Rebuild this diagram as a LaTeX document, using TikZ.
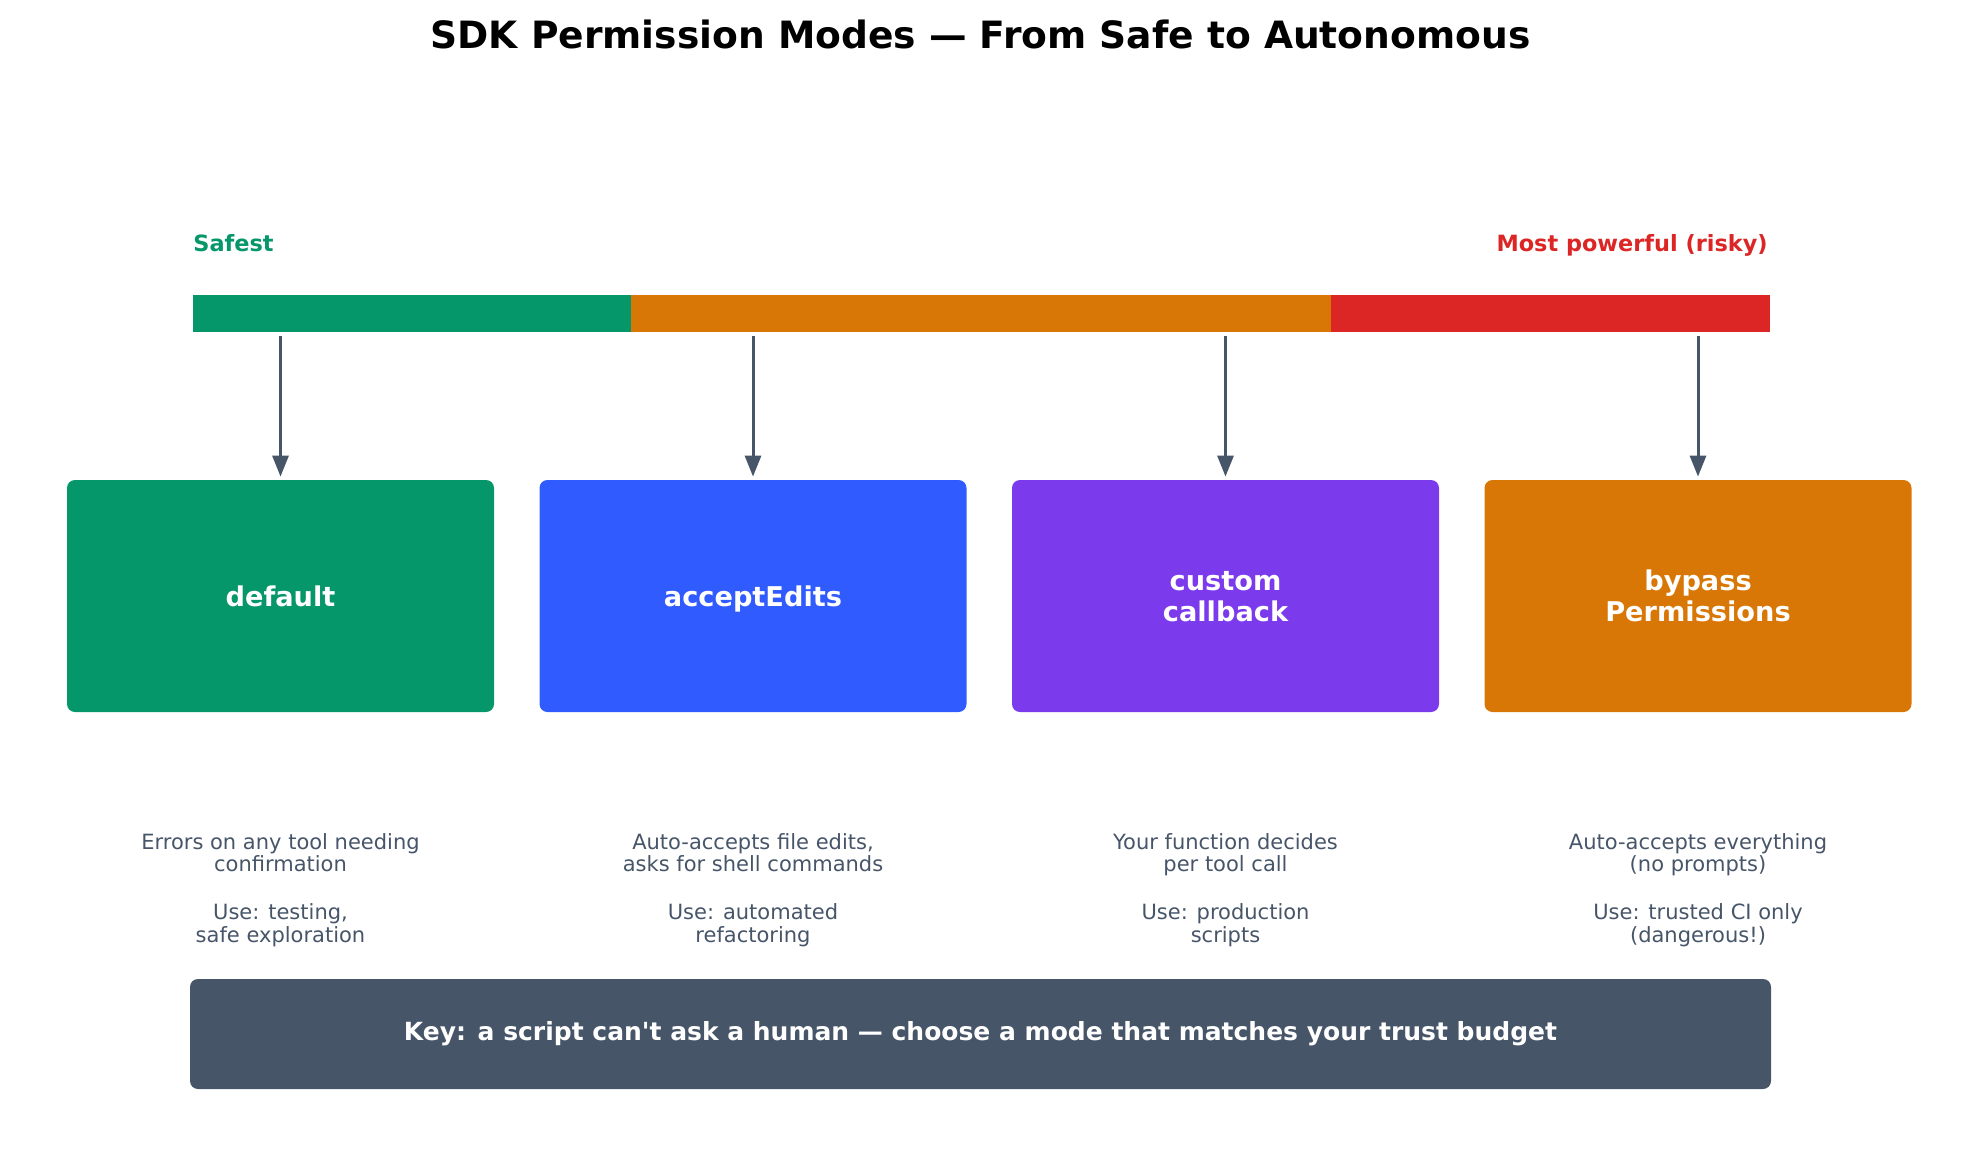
\documentclass[tikz,border=0pt]{standalone}
\usepackage{fontspec}
\setmainfont{DejaVu Sans}
\usetikzlibrary{arrows.meta, positioning}

\definecolor{safegreen}{HTML}{059669}
\definecolor{editblue}{HTML}{2F5BFF}
\definecolor{cbpurple}{HTML}{7C3AED}
\definecolor{riskorange}{HTML}{D97706}
\definecolor{riskred}{HTML}{DC2626}
\definecolor{slate}{HTML}{475569}

\begin{document}
\begin{tikzpicture}[
        x=0.5pt, y=-0.5pt,
        node distance=236.25pt,
        mode/.style={rectangle, rounded corners=4pt, minimum width=213.5pt, minimum height=116pt, inner sep=0pt, text depth=0pt, text=white, align=center, font=\bfseries\fontsize{13.6}{15.5}\selectfont},
        note/.style={text=slate, align=center, font=\fontsize{10.5}{11.25}\selectfont},
        seg/.style={rectangle, inner sep=0pt, minimum height=18pt, anchor=west, fill=#1, draw=#1, line width=0.2pt},
        arrow/.style={-{Triangle[width=8pt,length=10.5pt]}, line width=1.5pt, draw=slate, shorten >=1.5pt}
    ]

    \useasboundingbox (0,0) rectangle (1961,1151);

    \node[font=\bfseries\fontsize{18.8}{22}\selectfont] (title) at (980.5,34) {SDK Permission Modes — From Safe to Autonomous};

    % risk scale
    \node[text=safegreen, anchor=base west, inner sep=0pt, font=\bfseries\fontsize{11.2}{13}\selectfont] (safe) at (193,251) {Safest};
    \node[text=riskred, anchor=base east, inner sep=0pt, font=\bfseries\fontsize{11.2}{13}\selectfont] (risky) at (1768,251) {Most powerful (risky)};

    \node[seg=safegreen, minimum width=219pt] (S1) at (193,313) {};
    \node[seg=riskorange, minimum width=349.5pt] (S2) at (S1.east) {};
    \node[seg=riskred, minimum width=219pt] (S3) at (S2.east) {};

    % modes
    \node[mode, fill=safegreen] (M1) at (280.5,596) {default};
    \node[mode, fill=editblue] (M2) [right of=M1] {acceptEdits};
    \node[mode, fill=cbpurple] (M3) [right of=M2] {custom\\callback};
    \node[mode, fill=riskorange] (M4) [right of=M3] {bypass\\Permissions};

    \coordinate (T1) at (280.5,336);
    \coordinate (T2) at (753,336);
    \coordinate (T3) at (1225.5,336);
    \coordinate (T4) at (1698,336);

    \draw[arrow] (T1) -- (M1);
    \draw[arrow] (T2) -- (M2);
    \draw[arrow] (T3) -- (M3);
    \draw[arrow] (T4) -- (M4);

    % notes
    \node[note] (N1) at (280.5,890) {Errors on any tool needing\\confirmation\\[12.75pt]Use: testing,\\safe exploration};
    \node[note] (N2) at (753,890) {Auto-accepts file edits,\\asks for shell commands\\[12.75pt]Use: automated\\refactoring};
    \node[note] (N3) at (1225.5,890) {Your function decides\\per tool call\\[12.75pt]Use: production\\scripts};
    \node[note] (N4) at (1698,890) {Auto-accepts everything\\(no prompts)\\[12.75pt]Use: trusted CI only\\(dangerous!)};

    \node[fill=slate, rounded corners=4pt, minimum width=790.5pt, minimum height=55pt, inner sep=0pt, text=white, font=\bfseries\fontsize{12.5}{14}\selectfont] (K) at (980.5,1034) {Key: a script can\textquotesingle t ask a human — choose a mode that matches your trust budget};
\end{tikzpicture}
\end{document}
